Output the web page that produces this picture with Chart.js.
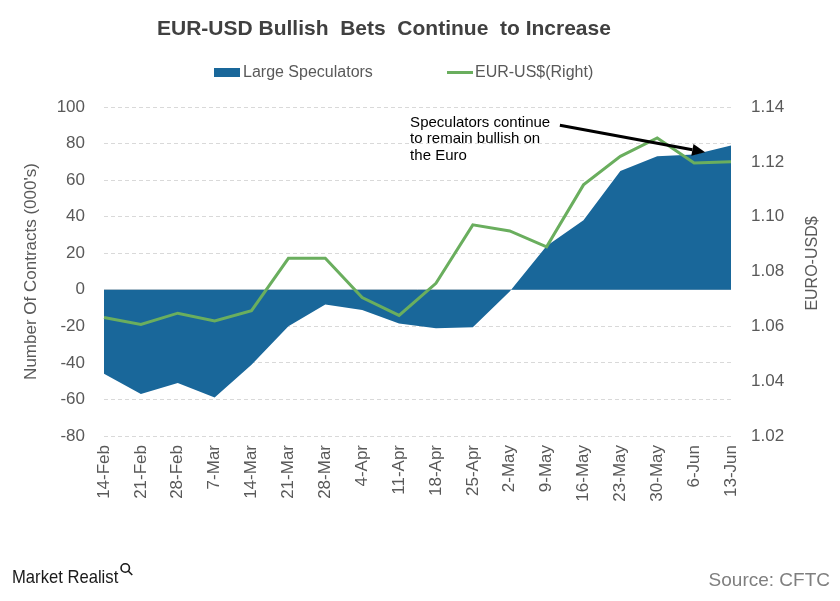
<!DOCTYPE html>
<html>
<head>
<meta charset="utf-8">
<script src="https://cdn.jsdelivr.net/npm/chart.js@4.4.1/dist/chart.umd.min.js"></script>
<style>
html,body{margin:0;padding:0;background:#ffffff;}
#wrap{width:840px;height:601px;position:relative;}
</style>
</head>
<body>
<div id="wrap"><canvas id="c" width="840" height="601"></canvas></div>
<script>
// ---- data ----
const categories = ["14-Feb","21-Feb","28-Feb","7-Mar","14-Mar","21-Mar","28-Mar","4-Apr","11-Apr","18-Apr","25-Apr","2-May","9-May","16-May","23-May","30-May","6-Jun","13-Jun"];
const largeSpeculators = [-46, -57, -51, -59, -41, -20, -8, -11, -18.5, -21, -20.5, -1, 24, 38, 65, 73, 74, 79];
const eurUsd = [1.0632, 1.0607, 1.0648, 1.0620, 1.0657, 1.0848, 1.0848, 1.0705, 1.0640, 1.0757, 1.0970, 1.0948, 1.0890, 1.1116, 1.1220, 1.1287, 1.1196, 1.1200];
const seriesNames = ["Large Speculators", "EUR-US$(Right)"];
const leftTicks = {min: -80, max: 100, step: 20};
const rightTicks = {min: 1.02, max: 1.14, step: 0.02};
const chartTitle = "EUR-USD Bullish  Bets  Continue  to Increase";
const leftAxisTitle = "Number Of Contracts (000's)";
const rightAxisTitle = "EURO-USD$";
const annotationLines = ["Speculators continue", "to remain bullish on", "the Euro"];
// annotation anchor in data units (category index, left-axis value)
const annotationText = {index: 8.3, value: 91.5};
const annotationArrow = {fromIndex: 12.36, fromValue: 90, toIndex: 16.3, toValue: 75.3};
const sourceText = "Source: CFTC";
const brandText = "Market Realist";

const FONT = "'Liberation Sans', Arial, Helvetica, sans-serif";
const BLUE = "#19679a";
const GREEN = "#6aae5e";
const TXT = "#595959";

const overlay = {
  id: 'overlay',
  afterDraw(chart) {
    const ctx = chart.ctx;
    const ca = chart.chartArea;
    const xs = chart.scales.x, ys = chart.scales.y;
    ctx.save();
    // title
    ctx.fillStyle = "#404040";
    ctx.font = "bold 21px " + FONT;
    ctx.textAlign = "left";
    ctx.textBaseline = "middle";
    ctx.fillText(chartTitle, 157, 29);

    // legend
    ctx.font = "16px " + FONT;
    const ds = chart.data.datasets;
    ctx.fillStyle = ds[0].backgroundColor;
    ctx.fillRect(214, 68, 26, 9);
    ctx.fillStyle = TXT;
    ctx.fillText(ds[0].label, 243, 73);
    ctx.strokeStyle = ds[1].borderColor;
    ctx.lineWidth = 3;
    ctx.beginPath();
    ctx.moveTo(447, 72.5);
    ctx.lineTo(473, 72.5);
    ctx.stroke();
    ctx.fillText(ds[1].label, 475, 73);

    // right axis title (reads bottom to top)
    ctx.save();
    ctx.translate(813, (ca.top + ca.bottom) / 2 - 8);
    ctx.rotate(-Math.PI / 2);
    ctx.textAlign = "center";
    ctx.font = "16px " + FONT;
    ctx.fillStyle = TXT;
    ctx.fillText(rightAxisTitle, 0, 0);
    ctx.restore();

    // annotation text
    ctx.fillStyle = "#000000";
    ctx.font = "15px " + FONT;
    ctx.textAlign = "left";
    const tx = xs.getPixelForValue(annotationText.index);
    const ty = ys.getPixelForValue(annotationText.value);
    annotationLines.forEach((l, i) => ctx.fillText(l, tx, ty + i * 16.5));

    // annotation arrow
    const x1 = xs.getPixelForValue(annotationArrow.fromIndex), y1 = ys.getPixelForValue(annotationArrow.fromValue);
    const x2 = xs.getPixelForValue(annotationArrow.toIndex), y2 = ys.getPixelForValue(annotationArrow.toValue);
    const ang = Math.atan2(y2 - y1, x2 - x1);
    const hl = 13, hw = 6;
    const bx = x2 - hl * Math.cos(ang), by = y2 - hl * Math.sin(ang);
    ctx.strokeStyle = "#000000";
    ctx.lineWidth = 3;
    ctx.beginPath();
    ctx.moveTo(x1, y1);
    ctx.lineTo(bx, by);
    ctx.stroke();
    ctx.fillStyle = "#000000";
    ctx.beginPath();
    ctx.moveTo(x2, y2);
    ctx.lineTo(bx + hw * Math.sin(ang), by - hw * Math.cos(ang));
    ctx.lineTo(bx - hw * Math.sin(ang), by + hw * Math.cos(ang));
    ctx.closePath();
    ctx.fill();

    // footer brand (condensed)
    ctx.save();
    ctx.translate(12, 578);
    ctx.scale(0.875, 1);
    ctx.fillStyle = "#1a1a1a";
    ctx.font = "19px " + FONT;
    ctx.textAlign = "left";
    ctx.fillText(brandText, 0, 0);
    const bw = ctx.measureText(brandText).width;
    ctx.restore();
    const lx = 12 + bw * 0.875;
    ctx.strokeStyle = "#1a1a1a";
    ctx.lineWidth = 1.6;
    ctx.beginPath();
    ctx.arc(lx + 7, 568, 4.2, 0, Math.PI * 2);
    ctx.stroke();
    ctx.beginPath();
    ctx.moveTo(lx + 10, 571);
    ctx.lineTo(lx + 14, 575);
    ctx.stroke();

    ctx.fillStyle = "#7f7f7f";
    ctx.font = "19px " + FONT;
    ctx.textAlign = "right";
    ctx.fillText(sourceText, 830, 581);
    ctx.restore();
  }
};

new Chart(document.getElementById('c'), {
  data: {
    labels: categories,
    datasets: [
      {
        type: 'line',
        label: seriesNames[0],
        data: largeSpeculators,
        yAxisID: 'y',
        backgroundColor: BLUE,
        borderColor: BLUE,
        borderWidth: 0,
        pointRadius: 0,
        tension: 0,
        fill: 'origin',
        order: 1
      },
      {
        type: 'line',
        label: seriesNames[1],
        data: eurUsd,
        yAxisID: 'y1',
        borderColor: GREEN,
        backgroundColor: GREEN,
        borderWidth: 3,
        pointRadius: 0,
        tension: 0,
        fill: false,
        order: 0
      }
    ]
  },
  options: {
    responsive: false,
    animation: false,
    devicePixelRatio: 1,
    layout: {padding: {top: 107, left: 0, right: 0, bottom: 0}},
    plugins: {
      legend: {display: false},
      title: {display: false},
      tooltip: {enabled: false}
    },
    scales: {
      x: {
        type: 'category',
        offset: false,
        grid: {display: false, drawTicks: false},
        border: {display: false},
        ticks: {
          autoSkip: false, minRotation: 90, maxRotation: 90, padding: 9,
          color: TXT, font: {size: 17, family: FONT}
        },
        afterFit(s) { s.height = 165; }
      },
      y: {
        position: 'left',
        min: leftTicks.min, max: leftTicks.max,
        ticks: {stepSize: leftTicks.step, padding: 19, color: TXT, font: {size: 17, family: FONT}},
        grid: {color: '#d9d9d9', drawTicks: false, lineWidth: 1},
        border: {display: false, dash: ctx => (ctx.tick && ctx.tick.value === 0) ? [] : [4, 3]},
        title: {display: true, text: leftAxisTitle, color: TXT, font: {size: 17, family: FONT}, padding: {top: 21, bottom: 0}},
        afterFit(s) { s.width = 104; }
      },
      y1: {
        position: 'right',
        min: rightTicks.min, max: rightTicks.max,
        ticks: {stepSize: rightTicks.step, padding: 20, color: TXT, font: {size: 17, family: FONT},
                callback: v => Number(v).toFixed(2)},
        grid: {display: false, drawTicks: false},
        border: {display: false},
        afterFit(s) { s.width = 109; }
      }
    }
  },
  plugins: [overlay]
});
</script>
</body>
</html>
